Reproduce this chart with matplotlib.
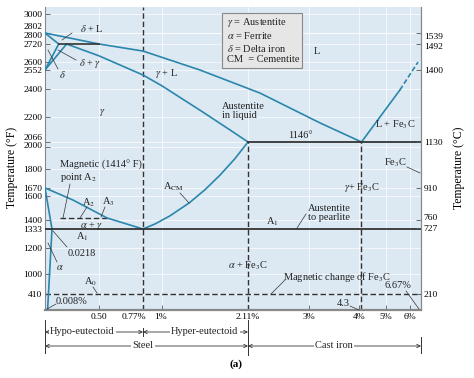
import numpy as np
import matplotlib
matplotlib.use('Agg')
import matplotlib.pyplot as plt
from matplotlib.transforms import ScaledTranslation
from matplotlib.patches import Rectangle

plt.rcParams['font.family'] = ['Liberation Serif', 'DejaVu Serif']
plt.rcParams['mathtext.fontset'] = 'stix'

# phase boundaries: carbon (wt %) and temperature (deg F)
liquidus_c = [0, 0.5, 0.77, 1.49, 2.285, 3.22, 4.3]
liquidus_t = [2802, 2720, 2673, 2552, 2371, 2168, 2066]
delta_sol_c = [0, 0.09]
delta_sol_t = [2802, 2720]
delta_gam_c = [0, 0.09]
delta_gam_t = [2552, 2720]
gam_delta_c = [0, 0.17]
gam_delta_t = [2552, 2720]
gam_sol_c = [0.17, 0.5, 0.77, 1.0, 1.5, 1.88, 2.11]
gam_sol_t = [2720, 2641, 2512, 2425, 2245, 2130, 2066]
a3_c = [0, 0.06, 0.235, 0.55, 0.77]
a3_t = [1670, 1630, 1566, 1414, 1333]
acm_c = [0.77, 0.915, 1.10, 1.35, 1.555, 1.75, 1.94, 2.11]
acm_t = [1333, 1370, 1431, 1541, 1655, 1759, 1893, 2066]
alpha_c = [0, 0.0218, 0.008]
alpha_t = [1670, 1333, 32]
fe3c_liq_c = [4.3, 5.58]
fe3c_liq_t = [2066, 2393]
fe3c_liq_dash_c = [5.58, 6.49]
fe3c_liq_dash_t = [2393, 2600]

peritectic_t = 2720
peritectic_c = [0.09, 0.5]
eutectic_t = 2066
eutectic_c = [2.11, 6.67]
eutectoid_t = 1333
a2_t = 1414
a2_c = [0.1, 0.55]
a0_t = 410
eutectoid_c = 0.77
max_steel_c = 2.11
eutectic_pt_c = 4.3
c_max = 6.67
t_min, t_max = 32, 3055

yticks_f = [3000, 2802, 2800, 2720, 2600, 2552, 2400, 2200, 2066, 2000,
            1800, 1670, 1600, 1400, 1333, 1200, 1000, 410]
yticks_c = [1539, 1492, 1400, 1130, 910, 760, 727, 210]
xticks = [0.5, 0.77, 1, 2.11, 3, 4, 5, 6]
xticklabels = ['0.50', '0.77%', '1%', '2.11%', '3%', '4%', '5%', '6%']

# the diagram is schematic: piecewise axis scales
c_knots = np.array([0, 0.0218, 0.5, 0.77, 1, 2.11, 3, 4, 4.3, 5, 6, 6.67])
c_pix = np.array([45, 52, 99, 143, 162, 248, 309, 359.5, 361.5, 386, 410, 421])
t_knots = np.array([32, 410, 1000, 1200, 1333, 1414, 1600, 1670, 1800, 2000,
                    2066, 2200, 2400, 2552, 2600, 2720, 2802, 3000, 3055])
t_pix = 310 - np.array([310, 294, 274, 248, 229, 218, 196, 188, 169, 147,
                        142, 117, 89, 70, 62, 44, 33, 14, 7])


def c_fwd(c):
    return np.interp(c, c_knots, c_pix)


def c_inv(p):
    return np.interp(p, c_pix, c_knots)


def t_fwd(t):
    return np.interp(t, t_knots, t_pix)


def t_inv(p):
    return np.interp(p, t_pix, t_knots)


def f2c(f):
    return (np.asarray(f) - 32) * 5 / 9


def c2f(c):
    return np.asarray(c) * 9 / 5 + 32


BLUE = '#2a86ac'
DARK = '#333333'

fig = plt.figure(figsize=(4.74, 3.78), dpi=100)
ax = fig.add_axes([45 / 474, 68 / 378, 376 / 474, 303 / 378])
ax.set_facecolor('#dce9f3')
ax.set_xscale('function', functions=(c_fwd, c_inv))
ax.set_yscale('function', functions=(t_fwd, t_inv))
ax.set_xlim(0, c_max)
ax.set_ylim(t_min, t_max)

kw = dict(color=BLUE, lw=1.2, zorder=3)
for cs, ts in [(liquidus_c, liquidus_t), (delta_sol_c, delta_sol_t),
               (delta_gam_c, delta_gam_t), (gam_delta_c, gam_delta_t),
               (gam_sol_c, gam_sol_t), (a3_c, a3_t), (acm_c, acm_t),
               (alpha_c, alpha_t), (fe3c_liq_c, fe3c_liq_t)]:
    ax.plot(cs, ts, **kw)
ax.plot(fe3c_liq_dash_c, fe3c_liq_dash_t, ls=(0, (3, 1.5)), **kw)

ax.plot(peritectic_c, [peritectic_t] * 2, color=DARK, lw=1.2, zorder=3)
ax.plot(eutectic_c, [eutectic_t] * 2, color=DARK, lw=1.3, zorder=3)
ax.plot([0, c_max], [eutectoid_t] * 2, color=DARK, lw=1.3, zorder=3)

dkw = dict(color=DARK, lw=1.0, ls=(0, (4, 2)), zorder=2)
ax.plot(a2_c, [a2_t] * 2, **dkw)
ax.plot([0, c_max], [a0_t] * 2, **dkw)
ax.plot([eutectoid_c] * 2, [t_min, t_max], **dkw)
ax.plot([max_steel_c] * 2, [t_min, eutectic_t], **dkw)
ax.plot([eutectic_pt_c] * 2, [t_min, eutectic_t], **dkw)

# axes styling
ax.set_xticks(xticks)
ax.set_xticklabels(xticklabels)
ax.set_yticks(yticks_f)
ax.set_yticklabels([str(v) for v in yticks_f])
ax.tick_params(direction='in', length=3.5, width=0.6, color='#555555',
               labelsize=6.8, pad=2)
ax.grid(True, color='white', lw=0.6, alpha=0.8)
ax.set_axisbelow(True)
ax.spines['top'].set_visible(False)
for s in ['left', 'right']:
    ax.spines[s].set_color('#888888')
    ax.spines[s].set_linewidth(0.8)
ax.spines['bottom'].set_color('#888888')
ax.spines['bottom'].set_linewidth(1.6)

ax2 = ax.twinx()
ax2.set_yscale('function', functions=(lambda c: t_fwd(c2f(c)),
                                      lambda p: f2c(t_inv(p))))
ax2.set_ylim(f2c(t_min), f2c(t_max))
ax2.set_yticks(yticks_c)
ax2.set_yticklabels([str(v) for v in yticks_c])
ax2.tick_params(direction='in', length=3.5, width=0.6, color='#555555',
                labelsize=6.8, pad=2)
for s in ['top', 'left', 'bottom']:
    ax2.spines[s].set_visible(False)
ax2.spines['right'].set_color('#888888')
ax2.spines['right'].set_linewidth(0.8)


def nudge(labels, shifts, dx=False):
    for lab in labels:
        d = shifts.get(lab.get_text())
        if d:
            off = (d / 100, 0) if dx else (0, d / 100)
            lab.set_transform(lab.get_transform() +
                              ScaledTranslation(*off, fig.dpi_scale_trans))


nudge(ax.get_yticklabels(), {'2802': 7, '2800': -1.5, '2066': 5, '2000': 2})
nudge(ax2.get_yticklabels(), {'1539': -3, '1492': -1.5, '760': 3})
nudge(ax.get_xticklabels(), {'0.77%': -9, '1%': -1}, dx=True)

ax.set_ylabel('Temperature (°F)', fontsize=8.5)
ax.yaxis.set_label_coords(-27 / 376, 0.47)
ax2.set_ylabel('Temperature (°C)', fontsize=8.5)
ax2.yaxis.set_label_coords(408 / 376, 0.47)


# annotation helpers (reference pixel -> axes fraction)
def fx(px):
    return (px - 45) / 376


def fy(py):
    return (310 - py) / 303


def label(s, px, py, ha='center', fs=7.5, **kw):
    ax.text(fx(px), fy(py), s, transform=ax.transAxes, ha=ha, va='center',
            fontsize=fs, color='#222222', zorder=5, **kw)


def leader(p0, p1):
    ax.plot([fx(p0[0]), fx(p1[0])], [fy(p0[1]), fy(p1[1])],
            transform=ax.transAxes, color='#333333', lw=0.5, zorder=5,
            clip_on=False)


label(r'$\delta$ + L', 92, 28)
leader((72, 33), (62, 40))
label(r'$\delta$ + $\gamma$', 90, 63)
leader((76, 60), (58, 50))
label(r'$\delta$', 62, 75)
leader((58, 69), (48, 50))
label(r'$\gamma$', 102, 113)
label(r'$\gamma$ + L', 166, 73)
label('L', 317, 52)
label('Austentite\nin liquid', 222, 111, ha='left', linespacing=1.0)
label('1146°', 300, 135)
label('L + Fe$_3$C', 395, 125)
label('Fe$_3$C', 395, 163)
leader((407, 167), (420, 173))
label(r'$\gamma$+ Fe$_3$C', 362, 188)
label('Austentite\nto pearlite', 308, 213, ha='left', linespacing=1.0)
leader((306, 214), (297, 228))
label('A$_1$', 272, 222)
label(r'A$_{\mathrm{CM}}$', 173, 187)
leader((180, 193), (189, 203))
label(r'$\alpha$ + Fe$_3$C', 248, 266)
label('Magnetic change of Fe$_3$C', 283, 277, ha='left')
leader((285, 280), (271, 294))
label('6.67%', 398, 286)
leader((406, 291), (419, 309))
label('4.3', 343, 303)
leader((350, 306), (359, 310))
label('0.008%', 72, 302)
leader((56, 304), (47, 309))
label('A$_0$', 91, 282)
leader((93, 287), (97, 293))
label('0.0218', 82, 253)
leader((67, 247), (53, 231))
label(r'$\alpha$', 60, 268)
leader((57, 262), (48, 243))
label('A$_1$', 82, 237)
label(r'$\alpha$ + $\gamma$', 92, 226)
label('A$_2$', 89, 203)
leader((87, 207), (80, 218))
label('A$_3$', 108, 202)
leader((105, 207), (101, 217))
label('Magnetic (1414° F)', 60, 165, ha='left')
label('point A$_2$', 60, 178, ha='left')
leader((70, 184), (63, 218))

# legend box
ax.add_patch(Rectangle((fx(222), fy(68)), fx(302) - fx(222), fy(13) - fy(68),
                       transform=ax.transAxes, facecolor='#e6e6e6',
                       edgecolor='#888888', lw=0.8, zorder=4))
label('$\\gamma$ = Austentite\n$\\alpha$ = Ferrite\n$\\delta$ = Delta iron\n'
      'CM  = Cementite', 227, 40, ha='left', linespacing=1.15)

# steel / cast iron brackets below the axis
trans = ax.get_xaxis_transform()


def span(x0, x1, py, text, xlab):
    ax.annotate('', xy=(x0, fy(py)), xytext=(x1, fy(py)), xycoords=trans,
                textcoords=trans, annotation_clip=False,
                arrowprops=dict(arrowstyle='<->', lw=0.6, color='#333333',
                                shrinkA=0, shrinkB=0, mutation_scale=6))
    ax.text(xlab, fy(py), text, transform=trans, ha='center', va='center',
            fontsize=7.5, color='#222222',
            bbox=dict(fc='white', ec='none', pad=1.0))


span(0, eutectoid_c, 332, 'Hypo-eutectoid', 0.33)
span(eutectoid_c, max_steel_c, 332, 'Hyper-eutectoid', 1.55)
span(0, max_steel_c, 346, 'Steel', eutectoid_c)
span(max_steel_c, c_max, 346, 'Cast iron', 3.5)
for xv, (p0, p1) in [(0, (320, 353)), (eutectoid_c, (328, 336)),
                     (max_steel_c, (320, 355)), (c_max, (337, 353))]:
    ax.plot([xv, xv], [fy(p0), fy(p1)], transform=trans, clip_on=False,
            color='#333333', lw=0.7)

fig.text(236 / 474, 1 - 364 / 378, '(a)', ha='center', va='center',
         fontsize=8, fontweight='bold')

fig.savefig('out.png', dpi=100)
